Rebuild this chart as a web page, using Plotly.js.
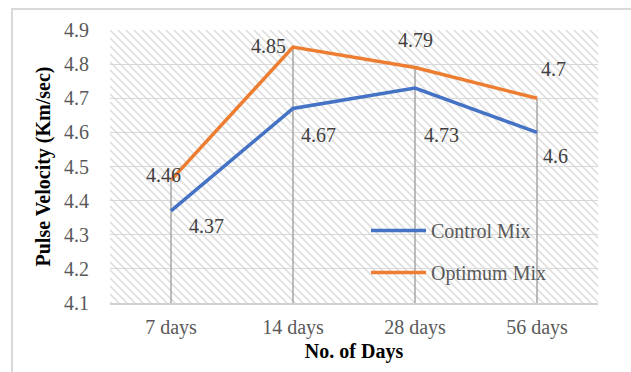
<!DOCTYPE html>
<html><head><meta charset="utf-8">
<script src="https://cdn.plot.ly/plotly-3.0.1.min.js"></script>
<style>html,body{margin:0;padding:0;background:#fff}#c{width:631px;height:372px}</style>
</head><body><div id="c"></div>
<script>
const categories = ["7 days", "14 days", "28 days", "56 days"];
const controlMix = [4.37, 4.67, 4.73, 4.6];
const optimumMix = [4.46, 4.85, 4.79, 4.7];
const yTicks = [4.1, 4.2, 4.3, 4.4, 4.5, 4.6, 4.7, 4.8, 4.9];
const yMin = 4.1, yMax = 4.9;

const ctrlShift = [[35,-15],[25,-27],[26,-47],[18,-24]];
const optShift = [[-8,5],[-25,1],[0,28],[16,29]];

const dropX = [], dropY = [];
categories.forEach((c,i)=>{ dropX.push(c,c,null); dropY.push(yMin, Math.max(controlMix[i], optimumMix[i]), null); });

const font = "Liberation Serif";
const blue = "#4472C4", orange = "#ED7D31";

const traces = [
  {x: dropX, y: dropY, mode: "lines", line:{color:"#a6a6a6", width:1.5}, showlegend:false, hoverinfo:"skip"},
  {x: categories, y: controlMix, name: "Control Mix", mode: "lines", line:{color:blue, width:3.5}, legendgroup:"a"},
  {x: categories, y: optimumMix, name: "Optimum Mix", mode: "lines", line:{color:orange, width:3.5}, legendgroup:"b"}
];

const ann = [];
categories.forEach((c,i)=>{
  ann.push({x:c, y:controlMix[i], text:String(controlMix[i]), showarrow:false, xshift:ctrlShift[i][0], yshift:ctrlShift[i][1], font:{family:font,size:20,color:"#404040"}});
  ann.push({x:c, y:optimumMix[i], text:String(optimumMix[i]), showarrow:false, xshift:optShift[i][0], yshift:optShift[i][1], font:{family:font,size:20,color:"#404040"}});
});

const hatch = '<svg xmlns="http://www.w3.org/2000/svg" width="488" height="273"><defs><pattern id="p" width="8" height="8" patternUnits="userSpaceOnUse"><path d="M-2,-2 L10,10 M-2,6 L2,10 M6,-2 L10,2" stroke="#e0e0e0" stroke-width="1.7"/></pattern></defs><rect width="488" height="273" fill="url(#p)"/></svg>';

const layout = {
  width: 631, height: 372,
  margin: {l:110, r:33, t:30, b:69},
  paper_bgcolor: "#fff", plot_bgcolor: "rgba(0,0,0,0)",
  font: {family: font, size: 20, color: "#595959"},
  showlegend: true,
  legend: {x:0.5246, y:0.337, xanchor:"left", yanchor:"top", bgcolor:"rgba(0,0,0,0)", itemwidth:55, font:{family:font,size:20,color:"#595959"}, tracegroupgap:13, traceorder:"grouped"},
  xaxis: {type:"category", range:[-0.5,3.5], showgrid:false, showline:true, linecolor:"#d0d0d0", linewidth:1.5, ticks:"outside", ticklen:5, tickcolor:"rgba(0,0,0,0)", tickfont:{family:font,size:20,color:"#595959"},
    title:{text:"<b>No. of Days</b>", font:{family:font,size:20,color:"#000"}, standoff:6}, fixedrange:true},
  yaxis: {range:[yMin,yMax], tickvals:yTicks, ticktext:yTicks.map(v=>v.toFixed(1)), showgrid:true, gridcolor:"#d9d9d9", gridwidth:1, zeroline:false, ticks:"outside", ticklen:16, tickcolor:"rgba(0,0,0,0)", tickfont:{family:font,size:20,color:"#595959"},
    title:{text:"<b>Pulse Velocity (Km/sec)</b>", font:{family:font,size:20,color:"#000"}, standoff:8}, fixedrange:true},
  images: [{source:"data:image/svg+xml;charset=utf-8,"+encodeURIComponent(hatch), xref:"paper", yref:"paper", x:0, y:1, sizex:1, sizey:1, sizing:"stretch", layer:"below", xanchor:"left", yanchor:"top"}],
  shapes: [{type:"path", xref:"paper", yref:"paper", path:"M -0.2008,-0.4 L -0.2008,1.0769 L 1.2,1.0769", line:{color:"#d9d9d9", width:2}}],
  annotations: ann
};
Plotly.newPlot("c", traces, layout, {displayModeBar:false, staticPlot:true});
</script></body></html>
